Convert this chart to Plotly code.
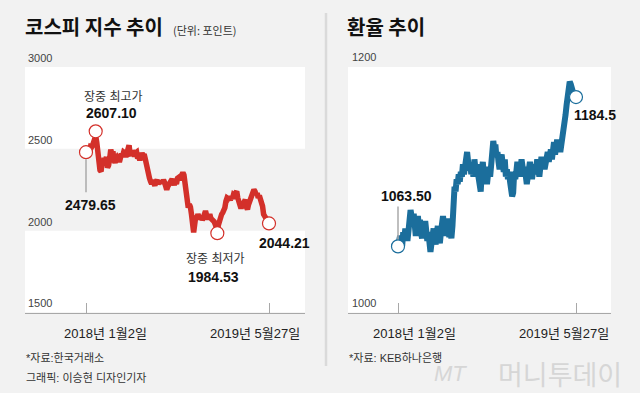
import pandas as pd
import plotly.graph_objects as go

# ---------------- data ----------------
start_date = "2018-01-02"
end_date = "2019-05-27"
step_days = 3

kospi_values = [
    2476, 2495, 2505, 2490, 2512, 2508, 2520, 2535, 2560, 2578,
    2540, 2490, 2395, 2370, 2362, 2420, 2400, 2445, 2425, 2450,
    2385, 2400, 2440, 2495, 2470, 2485, 2430, 2415, 2440, 2450,
    2440, 2420, 2445, 2470, 2455, 2480, 2475, 2450, 2490, 2505,
    2522, 2470, 2460, 2490, 2465, 2455, 2475, 2480, 2440, 2455,
    2430, 2460, 2475, 2455, 2468, 2440, 2400, 2360, 2335, 2320,
    2300, 2285, 2310, 2290, 2275, 2300, 2310, 2285, 2300, 2290,
    2305, 2290, 2310, 2295, 2265, 2250, 2270, 2285, 2300, 2310,
    2315, 2295, 2280, 2300, 2285, 2320, 2325, 2310, 2335, 2345,
    2355, 2340, 2290, 2250, 2170, 2140, 2160, 2145, 2100, 2050,
    1990, 2040, 2090, 2075, 2100, 2085, 2070, 2090, 2065, 2080,
    2110, 2120, 2095, 2070, 2085, 2100, 2075, 2070, 2060, 2055,
    2040, 2010, 2000, 2035, 2065, 2070, 2100, 2110, 2120, 2140,
    2180, 2200, 2195, 2205, 2185, 2210, 2195, 2220, 2215, 2230,
    2240, 2200, 2180, 2150, 2135, 2160, 2150, 2175, 2190, 2145,
    2130, 2160, 2180, 2205, 2225, 2235, 2250, 2240, 2220, 2230,
    2200, 2215, 2195, 2180, 2150, 2100, 2090, 2075, 2060, 2055,
    2044.21,
]

fx_values = [
    1063.5, 1066, 1072, 1068, 1064, 1075, 1070, 1078, 1072, 1068,
    1076, 1084, 1093, 1088, 1082, 1090, 1077, 1072, 1082, 1088,
    1080, 1085, 1074, 1070, 1080, 1076, 1084, 1072, 1068, 1075,
    1062, 1059, 1066, 1072, 1078, 1070, 1065, 1074, 1080, 1071,
    1066, 1075, 1084, 1088, 1080, 1072, 1078, 1086, 1079, 1071,
    1076, 1070, 1080, 1098, 1112, 1108, 1118, 1114, 1122, 1116,
    1124, 1120, 1130, 1122, 1128, 1136, 1140, 1132, 1125, 1130,
    1122, 1128, 1120, 1134, 1126, 1130, 1124, 1118, 1112, 1108,
    1124, 1132, 1120, 1118, 1126, 1114, 1122, 1128, 1120, 1130,
    1138, 1149, 1142, 1146, 1136, 1140, 1132, 1126, 1134, 1138,
    1130, 1124, 1134, 1120, 1126, 1118, 1124, 1116, 1110, 1104,
    1107, 1124, 1118, 1124, 1132, 1128, 1120, 1126, 1134, 1128,
    1120, 1128, 1122, 1114, 1120, 1126, 1132, 1124, 1118, 1125,
    1130, 1122, 1127, 1134, 1126, 1120, 1128, 1136, 1130, 1134,
    1126, 1134, 1138, 1140, 1132, 1136, 1142, 1134, 1140, 1148,
    1138, 1144, 1150, 1142, 1146, 1140, 1145, 1150, 1155, 1162,
    1170, 1178, 1185, 1192, 1197, 1195, 1190, 1192, 1186, 1188,
    1184.5,
]

kospi_mark_dates = ["2018-01-02", "2018-01-29", "2019-01-03", "2019-05-27"]
kospi_mark_values = [2479.65, 2607.10, 1984.53, 2044.21]
fx_mark_dates = ["2018-01-02", "2019-05-27"]
fx_mark_values = [1063.50, 1184.5]

kospi_ytick_labels = ["3000", "2500", "2000", "1500"]
fx_ytick_labels = ["1200", "1000"]
date_tick_labels = ["2018년 1월2일", "2019년 5월27일"]

# ---------------- styling ----------------
W, H = 640, 393
BG = "#f2f2f2"
RED = "#d3302a"
BLUE = "#1b6e9c"
FONT = "Liberation Sans, Arial, Noto Sans CJK KR, sans-serif"
KFONT = "Noto Sans CJK KR, sans-serif"


def px(x):
    return x / W


def py(y):
    return 1 - y / H


start = pd.Timestamp(start_date)
end = pd.Timestamp(end_date)
k_dates = [start + pd.Timedelta(days=step_days * i) for i in range(len(kospi_values))]
f_dates = [start + pd.Timedelta(days=step_days * i) for i in range(len(fx_values))]

span = (end - start).days
ppd1 = 183 / span
ppd2 = 178 / span
x1_range = [start - pd.Timedelta(days=61 / ppd1), end + pd.Timedelta(days=36 / ppd1)]
x2_range = [start - pd.Timedelta(days=50 / ppd2), end + pd.Timedelta(days=35 / ppd2)]

fig = go.Figure()

fig.add_trace(go.Scatter(x=k_dates, y=kospi_values, mode="lines",
                         line=dict(color=RED, width=5.5), xaxis="x", yaxis="y",
                         hoverinfo="skip", showlegend=False))
fig.add_trace(go.Scatter(x=kospi_mark_dates, y=kospi_mark_values, mode="markers",
                         marker=dict(size=13, color="white", line=dict(color=RED, width=1.2)),
                         xaxis="x", yaxis="y", showlegend=False))
fig.add_trace(go.Scatter(x=f_dates, y=fx_values, mode="lines",
                         line=dict(color=BLUE, width=6), xaxis="x2", yaxis="y2",
                         hoverinfo="skip", showlegend=False))
fig.add_trace(go.Scatter(x=fx_mark_dates, y=fx_mark_values, mode="markers",
                         marker=dict(size=13, color="white", line=dict(color=BLUE, width=1.2)),
                         xaxis="x2", yaxis="y2", showlegend=False))

ydom = [py(312.5), py(67)]
axis_common = dict(showgrid=False, zeroline=False, showline=True, linecolor="#a8a8a8",
                   linewidth=1, ticks="inside", ticklen=10, tickcolor="#a8a8a8",
                   tickwidth=1, showticklabels=False, type="date", fixedrange=True)

fig.update_layout(
    width=W, height=H, autosize=False,
    margin=dict(l=0, r=0, t=0, b=0),
    paper_bgcolor=BG, plot_bgcolor="rgba(0,0,0,0)",
    font=dict(family=FONT, color="#333"),
    xaxis=dict(domain=[px(25), px(305)], range=x1_range,
               tickvals=[start, end], anchor="y", **axis_common),
    yaxis=dict(domain=ydom, range=[1500, 3000], anchor="x", showgrid=False,
               zeroline=False, showline=False, showticklabels=False, ticks="",
               fixedrange=True),
    xaxis2=dict(domain=[px(348), px(611)], range=x2_range,
                tickvals=[start, end], anchor="y2", **axis_common),
    yaxis2=dict(domain=ydom, range=[1009.9, 1208.9], anchor="x2", showgrid=False,
                zeroline=False, showline=False, showticklabels=False, ticks="",
                fixedrange=True),
)

shapes = [
    dict(type="rect", xref="x domain", yref="y", x0=0, x1=1, y0=2500, y1=3000,
         fillcolor="white", line=dict(width=0), layer="below"),
    dict(type="rect", xref="x domain", yref="y", x0=0, x1=1, y0=1500, y1=2000,
         fillcolor="white", line=dict(width=0), layer="below"),
    dict(type="rect", xref="x2 domain", yref="y2 domain", x0=0, x1=1, y0=0, y1=1,
         fillcolor="white", line=dict(width=0), layer="below"),
    dict(type="line", xref="paper", yref="paper", x0=px(326), x1=px(326),
         y0=py(13), y1=py(366), line=dict(color="#dadada", width=2.5)),
    dict(type="line", xref="x", yref="y", ysizemode="pixel",
         yanchor=kospi_mark_values[0], x0=kospi_mark_dates[0], x1=kospi_mark_dates[0],
         y0=-7, y1=-40, line=dict(color="#aaaaaa", width=1.5)),
    dict(type="line", xref="x2", yref="y2", ysizemode="pixel",
         yanchor=fx_mark_values[0], x0=fx_mark_dates[0], x1=fx_mark_dates[0],
         y0=7, y1=40, line=dict(color="#aaaaaa", width=1.5)),
]
fig.update_layout(shapes=shapes)

ann = []


def pt_label(text, xref, yref, x, y, dx, dy, size=14, bold=True, color="#111"):
    ann.append(dict(text=f"<b>{text}</b>" if bold else text, xref=xref, yref=yref,
                    x=x, y=y, xshift=dx, yshift=dy, showarrow=False,
                    xanchor="center", yanchor="middle",
                    font=dict(size=size, color=color, family=FONT)))


pt_label("장중 최고가", "x", "y", kospi_mark_dates[1], kospi_mark_values[1], 18, 34, 12, False, "#333")
pt_label(f"{kospi_mark_values[1]:.2f}", "x", "y", kospi_mark_dates[1], kospi_mark_values[1], 16, 18)
pt_label(f"{kospi_mark_values[0]:.2f}", "x", "y", kospi_mark_dates[0], kospi_mark_values[0], 4, -53)
pt_label("장중 최저가", "x", "y", kospi_mark_dates[2], kospi_mark_values[2], -2, -26, 12, False, "#333")
pt_label(f"{kospi_mark_values[2]:.2f}", "x", "y", kospi_mark_dates[2], kospi_mark_values[2], -4, -44)
pt_label(f"{kospi_mark_values[3]:.2f}", "x", "y", kospi_mark_dates[3], kospi_mark_values[3], 15, -20)
pt_label(f"{fx_mark_values[0]:.2f}", "x2", "y2", fx_mark_dates[0], fx_mark_values[0], 8, 50)
pt_label(f"{fx_mark_values[1]:.1f}", "x2", "y2", fx_mark_dates[1], fx_mark_values[1], 19, -18)

for xr, shifts in (("x", (19, -14.5)), ("x2", (16, -12.5))):
    for d, lab, s in zip([start_date, end_date], date_tick_labels, shifts):
        ann.append(dict(text=lab, xref=xr, yref="paper", x=d, y=py(333), xshift=s,
                        showarrow=False, xanchor="center", yanchor="middle",
                        font=dict(size=13, color="#222", family=FONT)))


def ptext(text, x, y, size, color="#333", bold=False, anchor="left", family=FONT, italic=False):
    t = f"<b>{text}</b>" if bold else text
    if italic:
        t = f"<i>{t}</i>"
    ann.append(dict(text=t, xref="paper", yref="paper", x=px(x), y=py(y),
                    showarrow=False, xanchor=anchor, yanchor="middle",
                    font=dict(size=size, color=color, family=family)))


for lab, yy in zip(kospi_ytick_labels, [58, 140, 222, 303]):
    ptext(lab, 26, yy, 11, "#444")
ptext(fx_ytick_labels[0], 350, 57, 11, "#444")
ptext(fx_ytick_labels[1], 350, 303, 11, "#444")

ptext("코스피 지수 추이", 23, 26, 20, "#111", bold=True, family=KFONT)
ptext("(단위: 포인트)", 171, 30, 11, "#333", family=KFONT)
ptext("환율 추이", 345, 26, 20, "#111", bold=True, family=KFONT)

ptext("*자료:한국거래소", 24, 358, 11, "#333")
ptext("그래픽: 이승현 디자인기자", 24, 378, 11, "#333")
ptext("*자료: KEB하나은행", 347, 357, 11, "#333")

ptext("MT", 432, 373, 22, "#d6d6d6", italic=True)
ptext("머니투데이", 496, 373, 27, "#d6d6d6", family=KFONT)

fig.update_layout(annotations=ann)

fig.write_html("out.html", config={"displayModeBar": False, "staticPlot": True})

# remove the browser's default page margin so the figure sits at (0, 0)
with open("out.html", "r", encoding="utf-8") as f:
    html = f.read()
html = html.replace("<head>", "<head><style>html,body{margin:0;padding:0;overflow:hidden;}</style>", 1)
with open("out.html", "w", encoding="utf-8") as f:
    f.write(html)
